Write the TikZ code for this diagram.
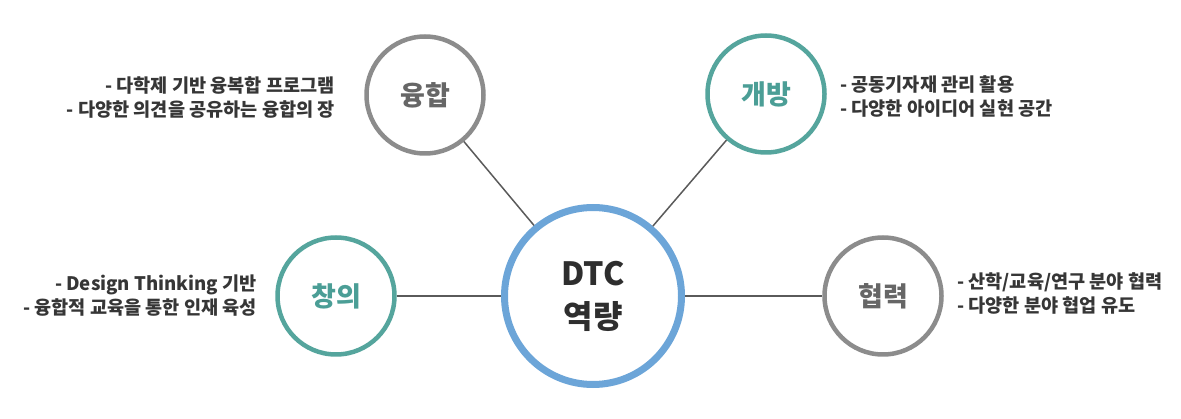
\documentclass[tikz,border=0pt]{standalone}
\usepackage{fontspec}
\setmainfont{Noto Sans CJK KR}
\begin{document}
\begin{tikzpicture}[x=1pt,y=-1pt]
\definecolor{cgray}{HTML}{8C8C8C}
\definecolor{cteal}{HTML}{55A59D}
\definecolor{cblue}{HTML}{6CA5D8}
\definecolor{tgray}{HTML}{666666}
\definecolor{tteal}{HTML}{4B9E96}
\definecolor{tdark}{HTML}{2E2E2E}
\definecolor{tlabel}{HTML}{363636}
\definecolor{cline}{HTML}{5A5A5A}
\tikzset{
  small/.style={circle, line width=4.5pt, minimum size=117pt, inner sep=0pt, fill=white,
    font=\fontsize{27}{30}\selectfont\bfseries},
  graycirc/.style={small, draw=cgray, text=tgray},
  tealcirc/.style={small, draw=cteal, text=tteal},
  maincirc/.style={circle, line width=7pt, minimum size=177pt, inner sep=0pt, fill=white, draw=cblue,
    text=tdark, align=center, font=\fontsize{32}{43}\selectfont\bfseries},
  conn/.style={draw=cline, line width=1.5pt},
  lbl/.style={inner sep=0pt, text=tlabel, font=\fontsize{18.6}{24}\selectfont\bfseries}
}
\useasboundingbox (0,0) rectangle (1181,419);
\node[maincirc] (m) at (593,296) {DTC\\역량};
\node[graycirc] (a) at (425,95) {융합};
\node[tealcirc] (b) at (766,94) {개방};
\node[tealcirc] (c) at (336,296) {창의};
\node[graycirc] (d) at (883,296) {협력};
\draw[conn] (m) -- (a);
\draw[conn] (m) -- (b);
\draw[conn] (c) -- (m);
\draw[conn] (m) -- (d);
\node[lbl, anchor=east, align=right] (la) at (335,98) {- 다학제 기반 융복합 프로그램\\- 다양한 의견을 공유하는 융합의 장};
\node[lbl, anchor=west, align=left] (lb) at (840,97) {- 공동기자재 관리 활용\\- 다양한 아이디어 실현 공간};
\node[lbl, anchor=east, align=right] (lc) at (257,296) {- Design Thinking 기반\\- 융합적 교육을 통한 인재 육성};
\node[lbl, anchor=west, align=left] (ld) at (957,293) {- 산학/교육/연구 분야 협력\\- 다양한 분야 협업 유도};
\end{tikzpicture}
\end{document}
